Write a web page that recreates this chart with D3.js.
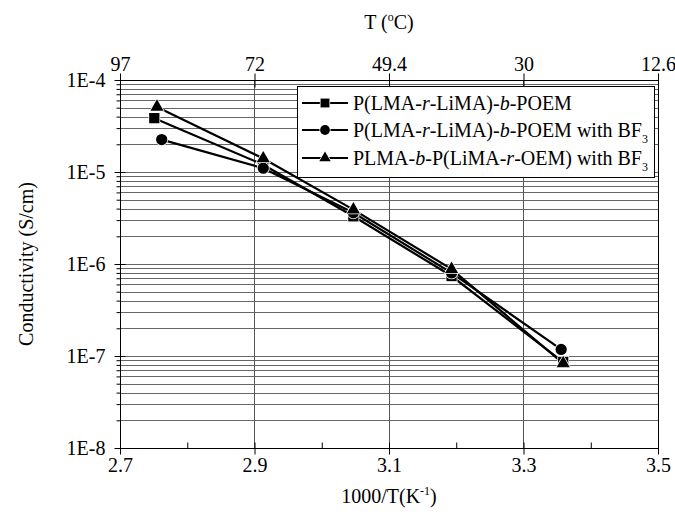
<!DOCTYPE html>
<html>
<head>
<meta charset="utf-8">
<script src="https://cdn.jsdelivr.net/npm/d3@7"></script>
<style>
  html, body { margin: 0; padding: 0; background: #fff; }
  svg { display: block; font-family: "Liberation Serif", "Times New Roman", serif; }
</style>
</head>
<body>
<svg id="chart" width="675" height="523"></svg>
<script>
// Inverse temperature (1000/T, K^-1) for each measurement, per series
const xSquare   = [2.751, 2.913, 3.047, 3.193, 3.359];
const xCircle   = [2.762, 2.913, 3.047, 3.193, 3.356];
const xTriangle = [2.755, 2.913, 3.047, 3.193, 3.359];

// Ionic conductivity (S/cm)
const ySquare   = [3.85e-5, 1.2e-5, 3.3e-6, 7.4e-7, 8.6e-8];
const yCircle   = [2.25e-5, 1.1e-5, 3.6e-6, 8.0e-7, 1.18e-7];
const yTriangle = [5.1e-5, 1.4e-5, 3.9e-6, 8.8e-7, 8.3e-8];

// Axis ticks
const xMajorTicks = [2.7, 2.9, 3.1, 3.3, 3.5];
const xMinorTicks = [2.8, 3.0, 3.2, 3.4];
const xGridTicks  = [2.9, 3.1, 3.3];
const yMajorTicks = [1e-8, 1e-7, 1e-6, 1e-5, 1e-4];
const yMajorLabels = ["1E-8", "1E-7", "1E-6", "1E-5", "1E-4"];
const topTickLabels = ["97", "72", "49.4", "30", "12.6"];

const series = [
  { xs: xSquare,   ys: ySquare,   symbol: d3.symbolSquare,   size: 105,
    label: [["P(LMA-", ""], ["r", "i"], ["-LiMA)-", ""], ["b", "i"], ["-POEM", ""]] },
  { xs: xCircle,   ys: yCircle,   symbol: d3.symbolCircle,   size: 100,
    label: [["P(LMA-", ""], ["r", "i"], ["-LiMA)-", ""], ["b", "i"], ["-POEM with BF", ""], ["3", "sub"]] },
  { xs: xTriangle, ys: yTriangle, symbol: d3.symbolTriangle, size: 75,
    label: [["PLMA-", ""], ["b", "i"], ["-P(LiMA-", ""], ["r", "i"], ["-OEM) with BF", ""], ["3", "sub"]] }
];

const svg = d3.select("#chart");
const L = 120, R = 658, T = 80, B = 448;

const x = d3.scaleLinear().domain([2.7, 3.5]).range([L, R]);
const y = d3.scaleLog().domain([1e-8, 1e-4]).range([B, T]);

// Minor log positions 1..9 x 10^n
const yAllTicks = [];
for (let e = -8; e < -4; e++) for (let k = 1; k <= 9; k++) yAllTicks.push(k * Math.pow(10, e));
yAllTicks.push(1e-4);
const yMinorTicks = yAllTicks.filter(v => !yMajorTicks.some(m => Math.abs(m - v) / m < 1e-9));

// Horizontal gridlines
const grid = svg.append("g").attr("shape-rendering", "crispEdges");
grid.selectAll("line.h").data(yAllTicks).join("line")
  .attr("x1", L).attr("x2", R)
  .attr("y1", d => Math.round(y(d)) + 0.5).attr("y2", d => Math.round(y(d)) + 0.5)
  .attr("stroke", "#666").attr("stroke-width", 1);
// Vertical gridlines
grid.selectAll("line.v").data(xGridTicks).join("line")
  .attr("y1", T).attr("y2", B)
  .attr("x1", d => Math.round(x(d)) + 0.5).attr("x2", d => Math.round(x(d)) + 0.5)
  .attr("stroke", "#555").attr("stroke-width", 1);

// Plot frame
svg.append("rect").attr("x", L + 0.5).attr("y", T + 0.5)
  .attr("width", R - L).attr("height", B - T)
  .attr("fill", "none").attr("stroke", "#000").attr("stroke-width", 1.2)
  .attr("shape-rendering", "crispEdges");

const fs = 20;

// Left axis: majors cross the line, minors point outward
const yAxis = svg.append("g").attr("transform", `translate(${L + 0.5},0)`)
  .call(d3.axisLeft(y).tickValues(yMajorTicks)
    .tickFormat((d, i) => yMajorLabels[i]).tickSize(6).tickPadding(9))
  .call(g => g.select(".domain").remove());
yAxis.selectAll(".tick line").attr("x2", -6).attr("x1", 5).attr("stroke", "#000");
yAxis.selectAll(".tick text").attr("font-size", fs).attr("font-family", "Liberation Serif").attr("fill", "#000");
svg.append("g").attr("transform", `translate(${L + 0.5},0)`)
  .call(d3.axisLeft(y).tickValues(yMinorTicks).tickSize(4).tickFormat(""))
  .call(g => g.select(".domain").remove())
  .selectAll(".tick line").attr("stroke", "#000");

// Bottom axis
const xAxis = svg.append("g").attr("transform", `translate(0,${B + 0.5})`)
  .call(d3.axisBottom(x).tickValues(xMajorTicks).tickFormat(d3.format(".1f")).tickSize(6).tickPadding(3))
  .call(g => g.select(".domain").remove());
xAxis.selectAll(".tick line").attr("y1", -6).attr("y2", 6).attr("stroke", "#000");
xAxis.selectAll(".tick text").attr("font-size", fs).attr("font-family", "Liberation Serif").attr("fill", "#000");
svg.append("g").attr("transform", `translate(0,${B + 0.5})`)
  .call(d3.axisTop(x).tickValues(xMinorTicks).tickSize(6).tickFormat(""))
  .call(g => g.select(".domain").remove())
  .selectAll(".tick line").attr("stroke", "#000");

// Top axis: temperature in Celsius at the same positions
const topAxis = svg.append("g").attr("transform", `translate(0,${T + 0.5})`)
  .call(d3.axisTop(x).tickValues(xMajorTicks).tickFormat((d, i) => topTickLabels[i]).tickSize(7).tickPadding(3))
  .call(g => g.select(".domain").remove());
topAxis.selectAll(".tick line").attr("y1", -7).attr("y2", 7).attr("stroke", "#000");
topAxis.selectAll(".tick text").attr("font-size", fs).attr("font-family", "Liberation Serif").attr("fill", "#000");

// Axis titles
const bt = svg.append("text").attr("x", (L + R) / 2).attr("y", 503)
  .attr("text-anchor", "middle").attr("font-size", fs);
bt.append("tspan").text("1000/T(K");
bt.append("tspan").attr("dy", -8).attr("font-size", 12).text("-1");
bt.append("tspan").attr("dy", 8).text(")");

const tt = svg.append("text").attr("x", (L + R) / 2).attr("y", 29)
  .attr("text-anchor", "middle").attr("font-size", fs);
tt.append("tspan").text("T (");
tt.append("tspan").attr("dy", -8).attr("font-size", 12).text("o");
tt.append("tspan").attr("dy", 8).text("C)");

svg.append("text")
  .attr("transform", `translate(33,${(T + B) / 2}) rotate(-90)`)
  .attr("text-anchor", "middle").attr("font-size", fs)
  .text("Conductivity (S/cm)");

// Series lines and markers
const line = d3.line().x(d => x(d[0])).y(d => y(d[1]));
series.forEach(s => {
  const pts = s.xs.map((v, i) => [v, s.ys[i]]);
  svg.append("path").datum(pts).attr("d", line)
    .attr("fill", "none").attr("stroke", "#000").attr("stroke-width", 2.2);
});
series.forEach(s => {
  const pts = s.xs.map((v, i) => [v, s.ys[i]]);
  svg.append("g").selectAll("path").data(pts).join("path")
    .attr("transform", d => `translate(${x(d[0])},${y(d[1])})`)
    .attr("d", d3.symbol().type(s.symbol).size(s.size))
    .attr("fill", "#000").attr("stroke", "#fff").attr("stroke-width", 1.5)
    .attr("paint-order", "stroke");
});

// Legend
const lg = svg.append("g");
lg.append("rect").attr("x", 297.5).attr("y", 86.5).attr("width", 357).attr("height", 91)
  .attr("fill", "#fff").attr("stroke", "#000").attr("stroke-width", 1)
  .attr("shape-rendering", "crispEdges");
const rowY = [103, 130, 158];
series.forEach((s, i) => {
  const cy = rowY[i];
  lg.append("line").attr("x1", 302).attr("x2", 348).attr("y1", cy).attr("y2", cy)
    .attr("stroke", "#000").attr("stroke-width", 2.2);
  lg.append("path").attr("transform", `translate(325,${cy})`)
    .attr("d", d3.symbol().type(s.symbol).size(s.size * 0.75))
    .attr("fill", "#000").attr("stroke", "#fff").attr("stroke-width", 1.5)
    .attr("paint-order", "stroke");
  const t = lg.append("text").attr("x", 353).attr("y", cy + 7).attr("font-size", fs);
  s.label.forEach(([str, style]) => {
    const sp = t.append("tspan").text(str);
    if (style === "i") sp.attr("font-style", "italic");
    if (style === "sub") sp.attr("font-size", 12).attr("dy", 6);
  });
});
</script>
</body>
</html>
